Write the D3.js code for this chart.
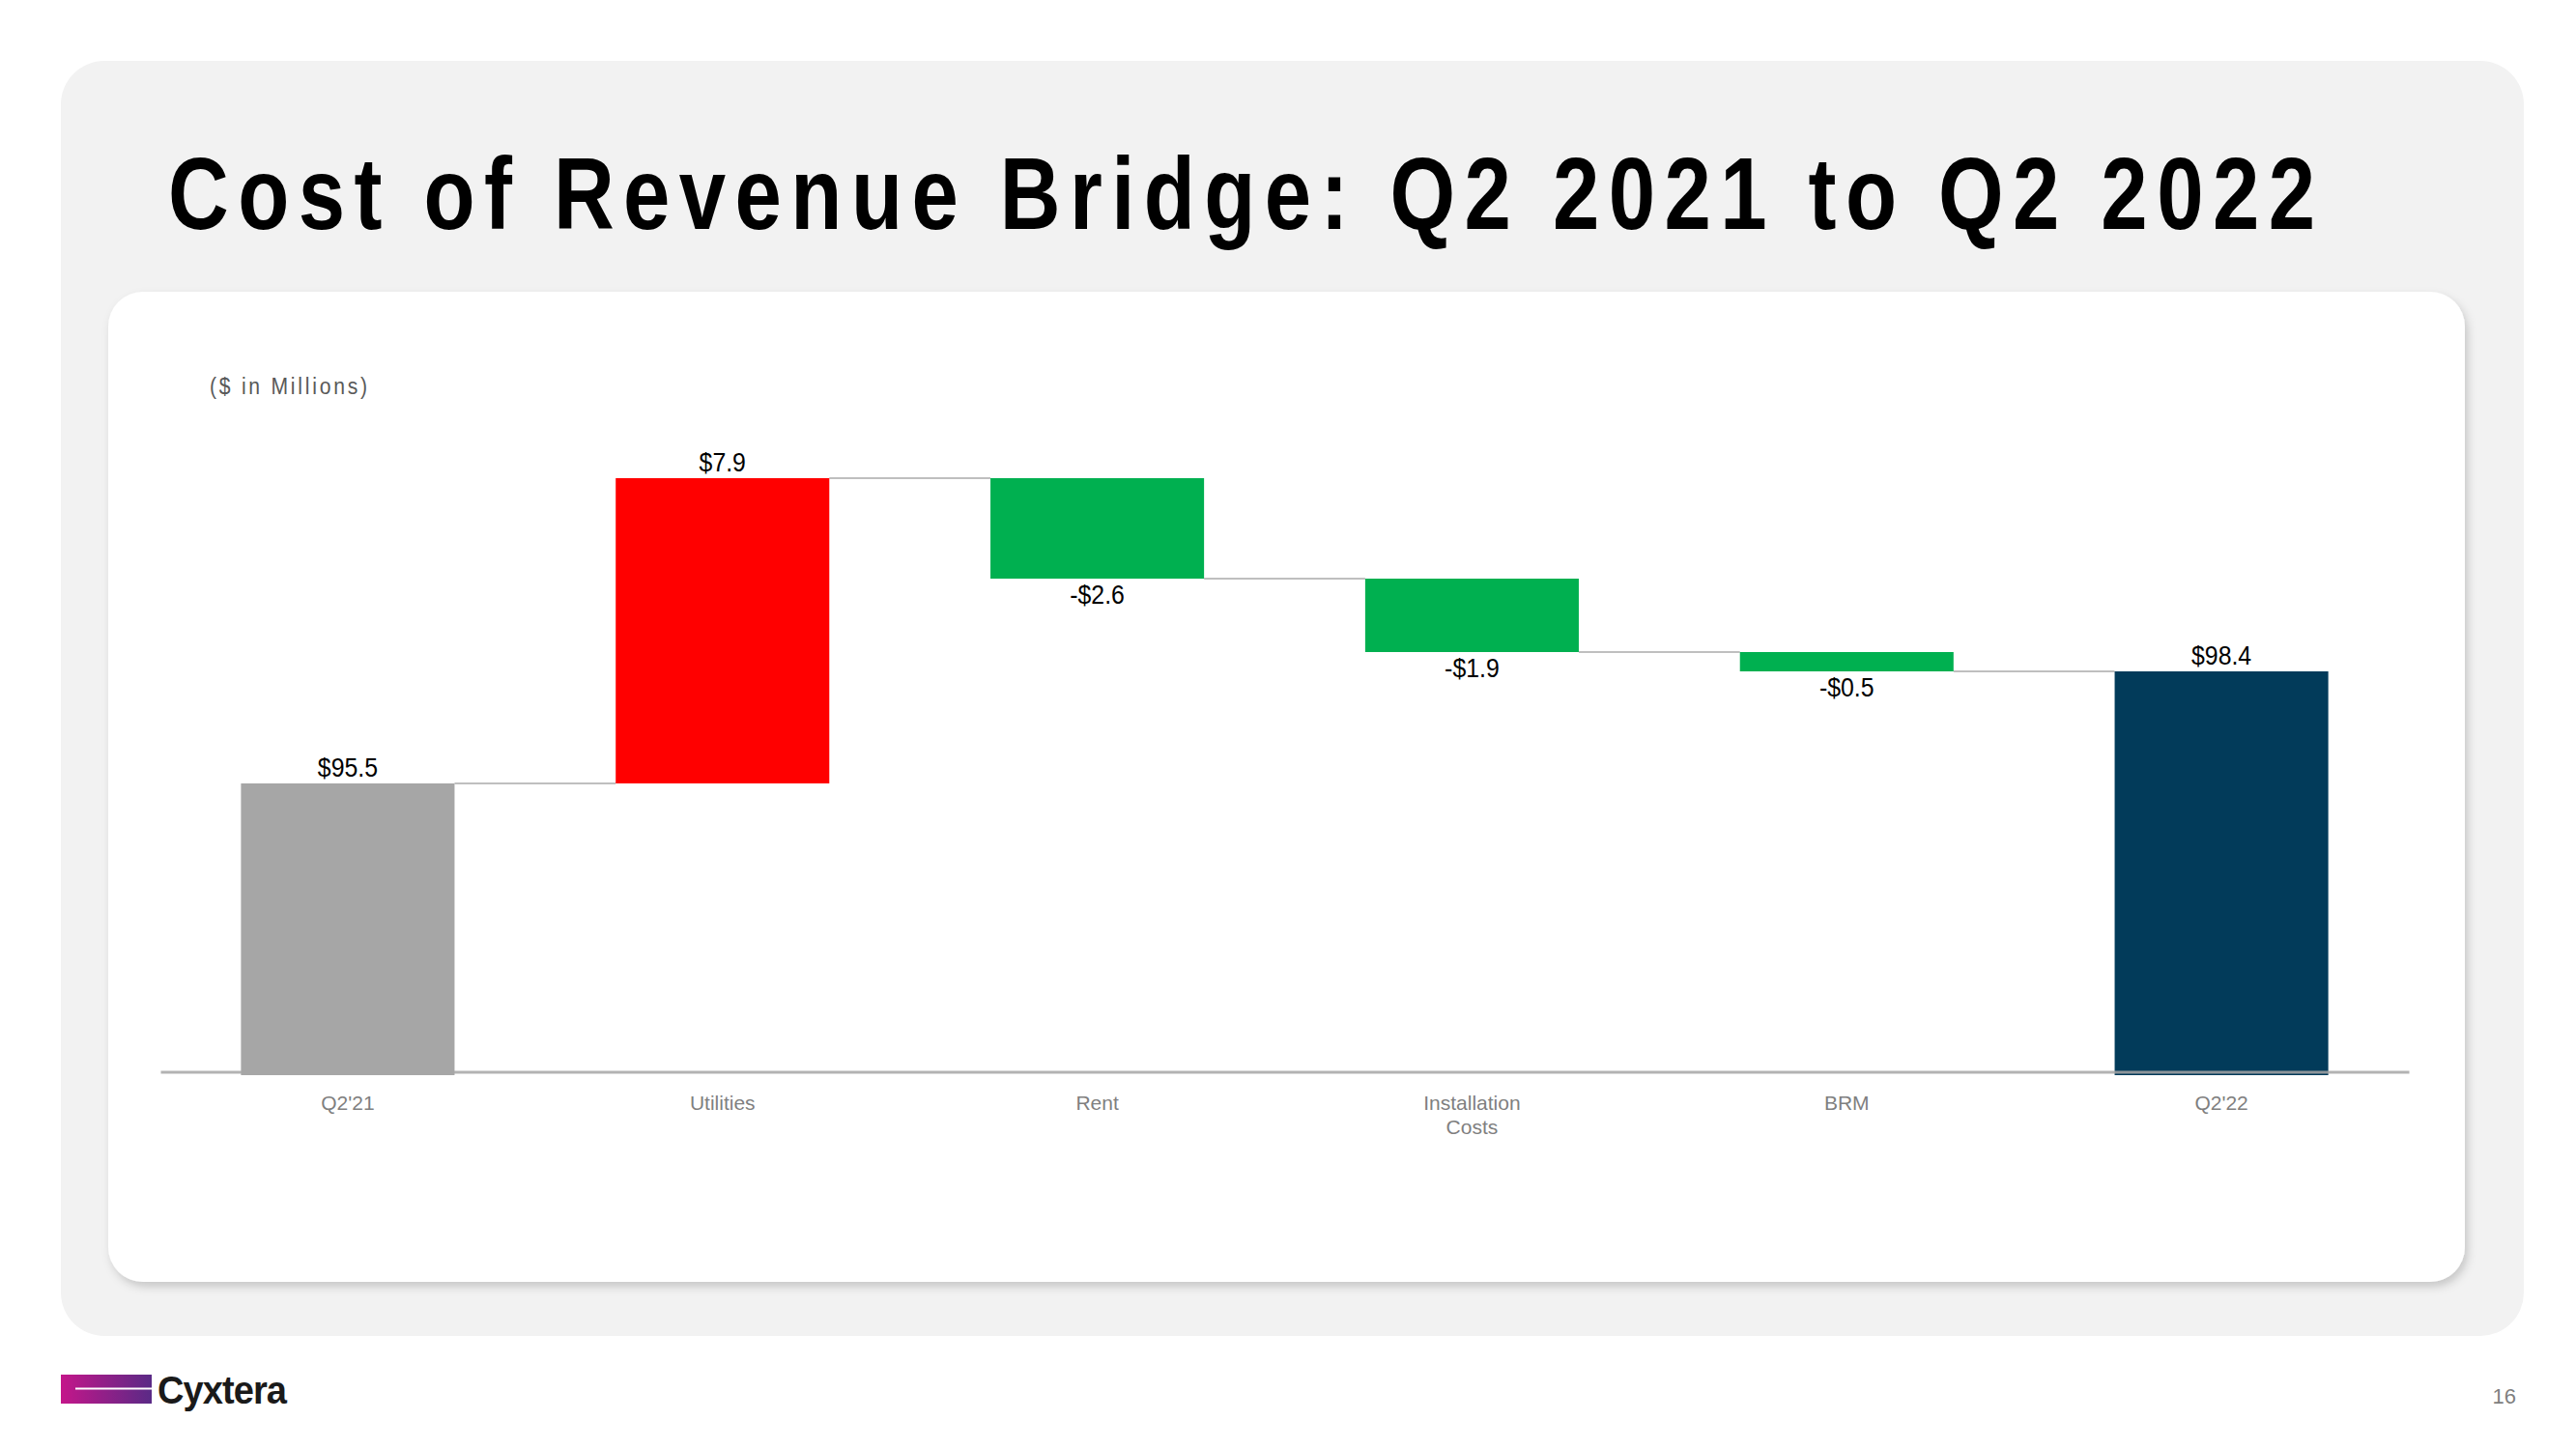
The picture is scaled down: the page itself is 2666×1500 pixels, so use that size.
<!DOCTYPE html>
<html>
<head>
<meta charset="utf-8">
<script src="https://cdn.jsdelivr.net/npm/d3@7"></script>
<style>
  html, body { margin: 0; padding: 0; background: #fff; }
  svg { display: block; font-family: "Liberation Sans", Arial, sans-serif; }
</style>
</head>
<body>
<svg width="2666" height="1500"></svg>
<script>
// chart values
var categories = ["Q2'21", "Utilities", "Rent", "Installation Costs", "BRM", "Q2'22"];
var axisLabels = [["Q2'21"], ["Utilities"], ["Rent"], ["Installation", "Costs"], ["BRM"], ["Q2'22"]];
var deltas = [95.5, 7.9, -2.6, -1.9, -0.5, 98.4];
var kinds = ["total", "up", "down", "down", "down", "total"];
var valueLabels = ["$95.5", "$7.9", "-$2.6", "-$1.9", "-$0.5", "$98.4"];
var yDomain = [88, 110];

var colors = { first: "#a6a6a6", up: "#ff0000", down: "#00b050", last: "#023b5a" };

var svg = d3.select("svg");

// drop shadow for the white card
var defs = svg.append("defs");
var f = defs.append("filter").attr("id", "shadow")
    .attr("x", "-5%").attr("y", "-5%").attr("width", "110%").attr("height", "115%");
f.append("feDropShadow").attr("dx", 3).attr("dy", 5).attr("stdDeviation", 5)
    .attr("flood-color", "#000").attr("flood-opacity", 0.18);

var grad = defs.append("linearGradient").attr("id", "logoGrad");
grad.append("stop").attr("offset", "0%").attr("stop-color", "#c4168a");
grad.append("stop").attr("offset", "100%").attr("stop-color", "#5a2a86");

// grey background panel
svg.append("rect")
    .attr("x", 63).attr("y", 63).attr("width", 2549).attr("height", 1320)
    .attr("rx", 45).attr("fill", "#f2f2f2");

// title
var titleScale = 0.82;
svg.append("text")
    .attr("transform", "translate(174,237) scale(" + titleScale + ",1)")
    .attr("textLength", 2222 / titleScale)
    .attr("lengthAdjust", "spacing")
    .style("font-size", "106px")
    .style("font-weight", "bold")
    .attr("fill", "#000")
    .text("Cost of Revenue Bridge: Q2 2021 to Q2 2022");

// white card
svg.append("rect")
    .attr("x", 112).attr("y", 302).attr("width", 2439).attr("height", 1025)
    .attr("rx", 36).attr("fill", "#fff").attr("filter", "url(#shadow)");

var unitScale = 0.88;
svg.append("text")
    .attr("transform", "translate(217,408) scale(" + unitScale + ",1)")
    .attr("textLength", 163 / unitScale).attr("lengthAdjust", "spacing")
    .style("font-size", "24px").attr("fill", "#595959")
    .text("($ in Millions)");

// scales
var x = d3.scaleBand()
    .domain(categories)
    .range([166, 2493])
    .paddingInner(0.43)
    .paddingOuter(0.215);

var y = d3.scaleLinear().domain(yDomain).range([1111, 231]);

// build waterfall segments
var running = 0;
var bars = categories.map(function(c, i) {
    var lo, hi;
    if (kinds[i] === "total") {
        running = deltas[i];
        lo = yDomain[0]; hi = deltas[i];
    } else {
        var start = running;
        running = running + deltas[i];
        lo = Math.min(start, running); hi = Math.max(start, running);
    }
    var col = kinds[i] === "up" ? colors.up : kinds[i] === "down" ? colors.down
        : (i === 0 ? colors.first : colors.last);
    return { cat: c, lo: lo, hi: hi, end: running, kind: kinds[i], color: col, label: valueLabels[i] };
});

var g = svg.append("g");

// connectors
var links = bars.slice(0, -1).map(function(d, i) { return { from: d, to: bars[i + 1] }; });
g.selectAll("line.link").data(links).enter().append("line")
    .attr("class", "link")
    .attr("x1", function(d) { return x(d.from.cat) + x.bandwidth(); })
    .attr("x2", function(d) { return x(d.to.cat); })
    .attr("y1", function(d) { return y(d.from.end); })
    .attr("y2", function(d) { return y(d.from.end); })
    .attr("stroke", "#bfbfbf").attr("stroke-width", 2);

g.selectAll("rect.bar").data(bars).enter().append("rect")
    .attr("class", "bar")
    .attr("x", function(d) { return x(d.cat); })
    .attr("width", x.bandwidth())
    .attr("y", function(d) { return y(d.hi); })
    .attr("height", function(d) { return y(d.lo) - y(d.hi) + (d.kind === "total" ? 2 : 0); })
    .attr("fill", function(d) { return d.color; });

// value labels
g.selectAll("text.val").data(bars).enter().append("text")
    .attr("class", "val")
    .attr("transform", function(d) {
        var ty = d.kind === "down" ? y(d.lo) + 26 : y(d.hi) - 7;
        return "translate(" + (x(d.cat) + x.bandwidth() / 2) + "," + ty + ") scale(0.92,1)";
    })
    .attr("text-anchor", "middle")
    .style("font-size", "27px")
    .attr("fill", "#000")
    .text(function(d) { return d.label; });

// category axis
var axis = svg.append("g")
    .attr("transform", "translate(0,1109.5)")
    .call(d3.axisBottom(x).tickSize(0).tickFormat(""));
axis.select(".domain").attr("stroke", "#a6a6a6").attr("stroke-width", 3).attr("stroke-opacity", 0.85);

axis.selectAll(".tick text").remove();
axis.selectAll(".tick").each(function(d, i) {
    var t = d3.select(this).append("text")
        .attr("text-anchor", "middle")
        .attr("fill", "#7f7f7f")
        .style("font-size", "21px");
    axisLabels[i].forEach(function(line, k) {
        t.append("tspan").attr("x", 0).attr("y", 39 + k * 25).text(line);
    });
});

// footer: logo and page number
svg.append("rect").attr("x", 63).attr("y", 1423).attr("width", 94).attr("height", 30)
    .attr("fill", "url(#logoGrad)");
svg.append("line").attr("x1", 78).attr("x2", 157).attr("y1", 1437.5).attr("y2", 1437.5)
    .attr("stroke", "#fff").attr("stroke-width", 2);
svg.append("text")
    .attr("x", 163).attr("y", 1453)
    .attr("textLength", 133).attr("lengthAdjust", "spacingAndGlyphs")
    .style("font-size", "40px").style("font-weight", "bold")
    .style("letter-spacing", "-1px")
    .attr("fill", "#1a1a1a")
    .text("Cyxtera");
svg.append("text")
    .attr("x", 2604).attr("y", 1453)
    .attr("text-anchor", "end")
    .style("font-size", "22px").attr("fill", "#7f7f7f")
    .text("16");
</script>
</body>
</html>
